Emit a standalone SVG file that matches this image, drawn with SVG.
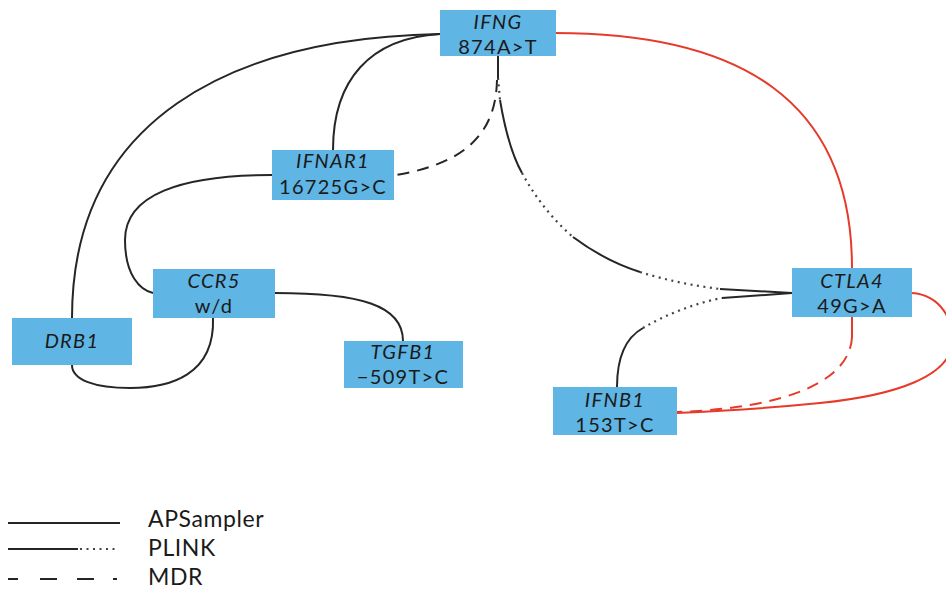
<svg xmlns="http://www.w3.org/2000/svg" width="946" height="590" viewBox="0 0 946 590">
<style>
.box{fill:#5fb5e4}
.t{font-family:Lato,"Liberation Sans",sans-serif;font-size:20px;fill:#1a1a1a;text-anchor:middle;letter-spacing:1.3px}
.i{font-style:italic}
.s{fill:none;stroke:#262626;stroke-width:2}
.d{fill:none;stroke:#444;stroke-width:2.2;stroke-dasharray:2 4.5}
.m{fill:none;stroke:#262626;stroke-width:2;stroke-dasharray:12 8}
.r{fill:none;stroke:#e63b2a;stroke-width:2}
.rm{fill:none;stroke:#e63b2a;stroke-width:2;stroke-dasharray:12 8}
.lg{font-family:Lato,"Liberation Sans",sans-serif;font-size:23px;fill:#1a1a1a;letter-spacing:0.6px}
</style>
<rect width="946" height="590" fill="#ffffff"/>
<g id="connectors">
  <!-- APSampler -->
  <path class="s" d="M440,34 C230,38 72,120 72,318"/>
  <path class="s" d="M440,34 C370,38 333,80 333,150"/>
  <path class="s" d="M272,175 C180,175 125,195 125,240 C125,275 140,290 153,293"/>
  <path class="s" d="M213,318 C215,375 170,388 130,388 C95,388 72,380 72,365"/>
  <path class="s" d="M275,293 C360,293 403,305 403,341"/>
  <!-- IFNG - IFNAR1 MDR -->
  <path class="m" d="M497,80 C496,125 475,162 396,175"/>
  <!-- IFNG - CTLA4 PLINK -->
  <path class="s" d="M498,56 L498,78"/>
  <path class="d" d="M498,78 L500,100"/>
  <path class="s" d="M500,100 C505,130 512,155 522,173"/>
  <path class="d" d="M522,173 C535,197 553,220 573,237"/>
  <path class="s" d="M573,237 C593,252 615,264 640,272"/>
  <path class="d" d="M640,272 C665,280 695,286 720,289"/>
  <path class="s" d="M720,289 L792,293"/>
  <!-- IFNB1 - CTLA4 PLINK -->
  <path class="s" d="M617,387 C617,360 625,338 643,328"/>
  <path class="d" d="M643,328 C665,315 695,303 722,298"/>
  <path class="s" d="M722,298 L792,293"/>
  <!-- red -->
  <path class="r" d="M555,33 C740,33 852,100 852,268"/>
  <path class="r" d="M852,317 L852,337"/>
  <path class="rm" d="M852,337 C850,380 790,408 677,412"/>
  <path class="r" d="M912,293 C940,295 955,320 952,345 C948,375 900,395 820,403 C760,409 700,412 677,413"/>
</g>
<g id="IFNG">
  <rect class="box" x="440" y="10" width="116" height="46"/>
  <text class="t i" x="498" y="29">IFNG</text>
  <text class="t" x="498" y="54">874A&gt;T</text>
</g>
<g id="IFNAR1">
  <rect class="box" x="272" y="150" width="122" height="50"/>
  <text class="t i" x="333" y="168">IFNAR1</text>
  <text class="t" x="333" y="194">16725G&gt;C</text>
</g>
<g id="CCR5">
  <rect class="box" x="153" y="269" width="122" height="49"/>
  <text class="t i" x="214" y="288">CCR5</text>
  <text class="t" x="214" y="313">w/d</text>
</g>
<g id="DRB1">
  <rect class="box" x="12" y="318" width="120" height="47"/>
  <text class="t i" x="72" y="348">DRB1</text>
</g>
<g id="TGFB1">
  <rect class="box" x="344" y="341" width="119" height="47"/>
  <text class="t i" x="403" y="359">TGFB1</text>
  <text class="t" x="403" y="384">−509T&gt;C</text>
</g>
<g id="CTLA4">
  <rect class="box" x="792" y="268" width="120" height="49"/>
  <text class="t i" x="852" y="288">CTLA4</text>
  <text class="t" x="852" y="313">49G&gt;A</text>
</g>
<g id="IFNB1">
  <rect class="box" x="553" y="387" width="124" height="48"/>
  <text class="t i" x="615" y="407">IFNB1</text>
  <text class="t" x="615" y="432">153T&gt;C</text>
</g>
<g id="legend">
  <path class="s" d="M8,523 L120,523"/>
  <text class="lg" x="148" y="527">APSampler</text>
  <path class="s" d="M8,549 L78,549"/>
  <path class="d" d="M80,549 L118,549"/>
  <text class="lg" x="148" y="556">PLINK</text>
  <path class="s" d="M8,579 L18,579 M40,579 L57,579 M77,579 L94,579 M113,579 L117,579"/>
  <text class="lg" x="148" y="585">MDR</text>
</g>
</svg>
